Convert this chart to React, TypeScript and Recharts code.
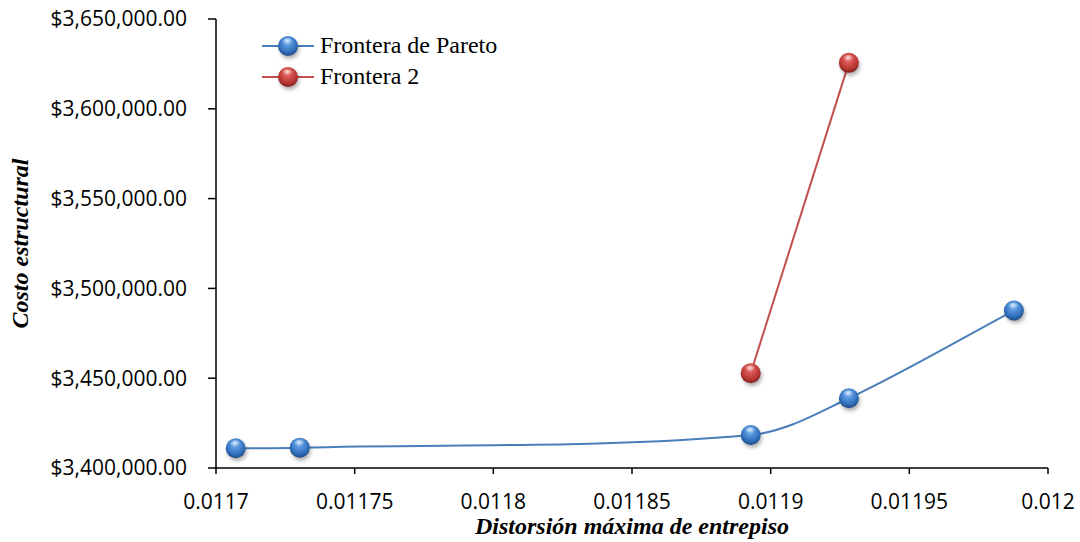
import React from 'react';
import { LineChart, Line, XAxis, YAxis, Legend, Label } from 'recharts';

// Pareto front: maximum inter-storey drift vs. structural cost
const paretoDrift = [0.0117071, 0.0117302, 0.0118928, 0.0119282, 0.0119877];
const paretoCost = [3410980, 3411315, 3418394, 3438850, 3487680];

// Second front
const front2Drift = [0.0118928, 0.0119282];
const front2Cost = [3452790, 3625580];

const xTicks = [0.0117, 0.01175, 0.0118, 0.01185, 0.0119, 0.01195, 0.012];
const yTicks = [3400000, 3450000, 3500000, 3550000, 3600000, 3650000];

const seriesNames = ['Frontera de Pareto', 'Frontera 2'];
const xTitle = 'Distorsión máxima de entrepiso';
const yTitle = 'Costo estructural';

const paretoData = paretoDrift.map((x, i) => ({ x, y: paretoCost[i] }));
const front2Data = front2Drift.map((x, i) => ({ x, y: front2Cost[i] }));

const BLUE = '#4a7ebb';
const RED = '#c0504d';

// Smoothed line in the spreadsheet style: cubic Bezier segments whose
// tangent at each point follows (P[i+1] - P[i-1]), with handle length a
// third of the segment it belongs to, so the curve never overshoots.
const smoothCurve = (context: any) => {
  let pts: [number, number][] = [];
  const unit = (a: [number, number], b: [number, number]) => {
    const dx = b[0] - a[0];
    const dy = b[1] - a[1];
    const len = Math.hypot(dx, dy) || 1;
    return [dx / len, dy / len];
  };
  return {
    areaStart() {},
    areaEnd() {},
    lineStart() {
      pts = [];
    },
    point(x: number, y: number) {
      pts.push([+x, +y]);
    },
    lineEnd() {
      const n = pts.length;
      if (!n) return;
      context.moveTo(pts[0][0], pts[0][1]);
      for (let i = 0; i < n - 1; i++) {
        const p0 = pts[i - 1] || pts[i];
        const p1 = pts[i];
        const p2 = pts[i + 1];
        const p3 = pts[i + 2] || p2;
        const seg = Math.hypot(p2[0] - p1[0], p2[1] - p1[1]) / 3;
        const d1 = unit(p0, p2);
        const d2 = unit(p1, p3);
        context.bezierCurveTo(
          p1[0] + d1[0] * seg,
          p1[1] + d1[1] * seg,
          p2[0] - d2[0] * seg,
          p2[1] - d2[1] * seg,
          p2[0],
          p2[1]
        );
      }
    },
  };
};

const fmtX = (v: number) => String(Number(v.toFixed(6)));
const fmtY = (v: number) =>
  '$' + v.toLocaleString('en-US', { minimumFractionDigits: 2, maximumFractionDigits: 2 });

const Sphere = ({ cx, cy, tone }: { cx: number; cy: number; tone: 'blue' | 'red' }) => (
  <g>
    <circle cx={cx + 1.5} cy={cy + 3} r={9.5} fill="rgba(0,0,0,0.35)" filter="url(#sphereShadow)" />
    <circle cx={cx} cy={cy} r={10} fill={`url(#sphere-${tone})`} />
    <ellipse cx={cx - 0.5} cy={cy - 5} rx={5} ry={3} fill="url(#sphereGloss)" />
  </g>
);

const makeDot = (tone: 'blue' | 'red') => (props: any) => {
  const { cx, cy, index } = props;
  if (cx == null || cy == null) return <g key={`${tone}-${index}`} />;
  return (
    <g key={`${tone}-${index}`}>
      <Sphere cx={cx} cy={cy} tone={tone} />
    </g>
  );
};

const LegendContent = () => {
  const rows: { name: string; color: string; tone: 'blue' | 'red' }[] = [
    { name: seriesNames[0], color: BLUE, tone: 'blue' },
    { name: seriesNames[1], color: RED, tone: 'red' },
  ];
  return (
    <div style={{ fontFamily: '"Liberation Serif", "Times New Roman", serif', fontSize: 24, color: '#000' }}>
      {rows.map((r) => (
        <div key={r.name} style={{ display: 'flex', alignItems: 'center', height: 31 }}>
          <svg width={58} height={28} style={{ overflow: 'visible' }}>
            <line x1={0} y1={14} x2={52} y2={14} stroke={r.color} strokeWidth={2} />
            <Sphere cx={26} cy={14} tone={r.tone} />
          </svg>
          <span style={{ lineHeight: '31px' }}>{r.name}</span>
        </div>
      ))}
    </div>
  );
};

const tickStyle = { fontFamily: '"Open Sans", sans-serif', fontSize: 21, fill: '#000' };
const titleFont = '"Liberation Serif", "Times New Roman", serif';

export default function App() {
  return (
    <div style={{ position: 'absolute', left: 0, top: 0, width: 1080, height: 542, background: '#fff' }}>
      <LineChart width={1080} height={542} margin={{ top: 19, right: 32, left: 0, bottom: 0 }}>
        <defs>
          <radialGradient id="sphere-blue" cx="50%" cy="40%" r="60%" fx="45%" fy="25%">
            <stop offset="0%" stopColor="#a8cdf6" />
            <stop offset="30%" stopColor="#5c9be2" />
            <stop offset="75%" stopColor="#2f6db9" />
            <stop offset="100%" stopColor="#1e4a86" />
          </radialGradient>
          <radialGradient id="sphere-red" cx="50%" cy="40%" r="60%" fx="45%" fy="25%">
            <stop offset="0%" stopColor="#f4a7a5" />
            <stop offset="30%" stopColor="#dc5a57" />
            <stop offset="75%" stopColor="#b73632" />
            <stop offset="100%" stopColor="#7f1f1c" />
          </radialGradient>
          <radialGradient id="sphereGloss" cx="50%" cy="40%" r="60%">
            <stop offset="0%" stopColor="#ffffff" stopOpacity={0.6} />
            <stop offset="100%" stopColor="#ffffff" stopOpacity={0} />
          </radialGradient>
          <filter id="sphereShadow" x="-50%" y="-50%" width="200%" height="200%">
            <feGaussianBlur stdDeviation="2" />
          </filter>
        </defs>
        <XAxis
          dataKey="x"
          type="number"
          domain={[0.0117, 0.012]}
          ticks={xTicks}
          tickFormatter={fmtX}
          allowDataOverflow
          height={74}
          stroke="#000"
          strokeWidth={1.5}
          tickSize={6}
          tickMargin={20}
          tick={tickStyle}
          tickLine={{ stroke: '#000', strokeWidth: 1.5 }}
        >
          <Label
            value={xTitle}
            position="insideBottom"
            offset={8}
            style={{ fontFamily: titleFont, fontSize: 24, fontWeight: 'bold', fontStyle: 'italic', fill: '#000' }}
          />
        </XAxis>
        <YAxis
          dataKey="y"
          type="number"
          domain={[3400000, 3650000]}
          ticks={yTicks}
          tickFormatter={fmtY}
          allowDataOverflow
          width={216}
          stroke="#000"
          strokeWidth={1.5}
          tickSize={8}
          tickMargin={21}
          tick={tickStyle}
          tickLine={{ stroke: '#000', strokeWidth: 1.5 }}
        >
          <Label
            content={(props: any) => {
              const vb = props.viewBox || { x: 0, y: 19, width: 216, height: 449 };
              const x = vb.x + 20;
              const y = vb.y + vb.height / 2;
              return (
                <text
                  x={x}
                  y={y}
                  transform={`rotate(-90 ${x} ${y})`}
                  textAnchor="middle"
                  dominantBaseline="central"
                  style={{ fontFamily: titleFont, fontSize: 24, fontWeight: 'bold', fontStyle: 'italic', fill: '#000' }}
                >
                  {yTitle}
                </text>
              );
            }}
          />
        </YAxis>
        <Legend
          layout="vertical"
          align="center"
          verticalAlign="middle"
          content={<LegendContent />}
          wrapperStyle={{ top: 30, left: 262, width: 'auto', height: 'auto' }}
        />
        <Line
          data={paretoData}
          dataKey="y"
          name={seriesNames[0]}
          type={smoothCurve as any}
          stroke={BLUE}
          strokeWidth={2}
          dot={makeDot('blue')}
          activeDot={false}
          isAnimationActive={false}
        />
        <Line
          data={front2Data}
          dataKey="y"
          name={seriesNames[1]}
          type="linear"
          stroke={RED}
          strokeWidth={2}
          dot={makeDot('red')}
          activeDot={false}
          isAnimationActive={false}
        />
      </LineChart>
    </div>
  );
}
